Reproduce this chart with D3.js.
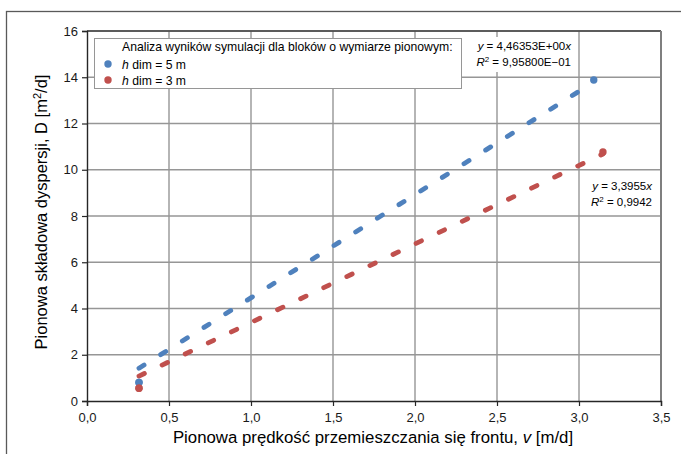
<!DOCTYPE html>
<html>
<head>
<meta charset="utf-8">
<script src="https://cdn.jsdelivr.net/npm/d3@7"></script>
<style>
  html, body { margin: 0; padding: 0; background: #fff; overflow: hidden; }
  text { font-family: "Liberation Sans", Arial, sans-serif; }
</style>
</head>
<body>
<script>
// ---- data ----
const seriesNames = ["h dim = 5 m", "h dim = 3 m"];
const seriesColors = ["#4F81BD", "#C0504D"];
const blueX = [0.317, 0.317, 3.09];
const blueY = [0.80, 0.80, 13.88];
const redX = [0.317, 0.317, 3.146];
const redY = [0.55, 0.55, 10.77];
const trendSlopes = [4.46353, 3.3955];
const eqLine1 = ["y = 4,46353E+00x", "y = 3,3955x"];
const eqLine2 = ["9,95800E\u221201", "0,9942"];
const xTicks = [0, 0.5, 1.0, 1.5, 2.0, 2.5, 3.0, 3.5];
const yTicks = [0, 2, 4, 6, 8, 10, 12, 14, 16];
const legendTitle = "Analiza wyników symulacji dla bloków o wymiarze pionowym:";

const W = 681, H = 454;
const svg = d3.select("body").append("svg").attr("width", W).attr("height", H);

// outer frame
svg.append("rect").attr("x", 6.5).attr("y", 11.5).attr("width", 700).attr("height", 500)
  .attr("fill", "none").attr("stroke", "#595959").attr("stroke-width", 1.3);

const pL = 87, pR = 661, pT = 31, pB = 401;
const x = d3.scaleLinear().domain([0, 3.5]).range([pL, pR]);
const y = d3.scaleLinear().domain([0, 16]).range([pB, pT]);

// gridlines
const g = svg.append("g");
g.selectAll(".vg").data(xTicks.slice(1)).enter().append("line")
  .attr("x1", d => x(d)).attr("x2", d => x(d)).attr("y1", pT).attr("y2", pB)
  .attr("stroke", "#969696").attr("stroke-width", 1.4);
g.selectAll(".hg").data(yTicks.slice(1)).enter().append("line")
  .attr("x1", pL).attr("x2", pR).attr("y1", d => y(d)).attr("y2", d => y(d))
  .attr("stroke", "#969696").attr("stroke-width", 1.4);
svg.append("line").attr("x1", pL).attr("x2", pR).attr("y1", pT).attr("y2", pT)
  .attr("stroke", "#404040").attr("stroke-width", 1.4);
svg.append("line").attr("x1", pR).attr("x2", pR).attr("y1", pT).attr("y2", pB)
  .attr("stroke", "#7f7f7f").attr("stroke-width", 2);

// axes
const fmt = d => d.toFixed(1).replace(".", ",");
const xAxis = svg.append("g").attr("transform", `translate(0,${pB})`)
  .call(d3.axisBottom(x).tickValues(xTicks).tickFormat(fmt).tickSizeOuter(0).tickSize(5).tickPadding(7));
const yAxis = svg.append("g").attr("transform", `translate(${pL},0)`)
  .call(d3.axisLeft(y).tickValues(yTicks).tickFormat(d3.format("d")).tickSizeOuter(0).tickSize(5).tickPadding(4));
[xAxis, yAxis].forEach(a => {
  a.select(".domain").attr("stroke", "#262626").attr("stroke-width", 1.4);
  a.selectAll(".tick line").attr("stroke", "#262626").attr("stroke-width", 1.2);
  a.selectAll(".tick text").attr("fill", "#1a1a1a").style("font-size", "13px")
    .style("font-family", "'Liberation Sans', Arial, sans-serif");
});

// trendlines
const series = [
  { xs: blueX, ys: blueY },
  { xs: redX, ys: redY }
];
series.forEach((s, i) => {
  const x0 = d3.min(s.xs), x1 = d3.max(s.xs);
  svg.append("line")
    .attr("x1", x(x0)).attr("y1", y(trendSlopes[i] * x0))
    .attr("x2", x(x1)).attr("y2", y(trendSlopes[i] * x1))
    .attr("stroke", seriesColors[i]).attr("stroke-width", 4.8)
    .attr("stroke-linecap", "round").attr("stroke-dasharray", "6,19.6");
});
// points
series.forEach((s, i) => {
  svg.selectAll(null).data(s.xs.map((v, k) => [v, s.ys[k]])).enter().append("circle")
    .attr("cx", d => x(d[0])).attr("cy", d => y(d[1])).attr("r", 3.7)
    .attr("fill", seriesColors[i]);
});

// legend
const lg = svg.append("g");
lg.append("rect").attr("x", 94.5).attr("y", 38.5).attr("width", 367).attr("height", 50)
  .attr("fill", "#fff").attr("stroke", "#969696").attr("stroke-width", 1);
lg.append("text").attr("x", 122).attr("y", 51).style("font-size", "12.2px").text(legendTitle);
seriesNames.forEach((n, i) => {
  const yy = 64 + i * 16;
  lg.append("circle").attr("cx", 108).attr("cy", yy).attr("r", 3.7).attr("fill", seriesColors[i]);
  const t = lg.append("text").attr("x", 122).attr("y", yy + 4.5).style("font-size", "12.2px");
  t.append("tspan").style("font-style", "italic").text(n.slice(0, 1));
  t.append("tspan").text(n.slice(1));
});

// equation labels
function eq(i, bx, by, bw, bh, tx, ty) {
  svg.append("rect").attr("x", bx).attr("y", by).attr("width", bw).attr("height", bh).attr("fill", "#fff");
  const parts = eqLine1[i].split("x");
  const t1 = svg.append("text").attr("x", tx).attr("y", ty).style("font-size", "11.5px").attr("text-anchor", "end");
  t1.append("tspan").style("font-style", "italic").text("y");
  t1.append("tspan").text(parts[0].slice(1));
  t1.append("tspan").style("font-style", "italic").text("x");
  const t2 = svg.append("text").attr("x", tx).attr("y", ty + 16).style("font-size", "11.5px").attr("text-anchor", "end");
  t2.append("tspan").style("font-style", "italic").text("R");
  t2.append("tspan").attr("dy", -4).style("font-size", "8px").text("2");
  t2.append("tspan").attr("dy", 4).text(" = " + eqLine2[i]);
}
eq(0, 466, 37, 110, 35, 571, 50);
eq(1, 586, 172, 71, 41, 652, 190);

// axis titles
svg.append("text").attr("x", 373).attr("y", 443).attr("text-anchor", "middle").style("font-size", "16.8px")
  .call(t => {
    t.append("tspan").text("Pionowa prędkość przemieszczania się frontu, ");
    t.append("tspan").style("font-style", "italic").text("v");
    t.append("tspan").text(" [m/d]");
  });
svg.append("text").attr("transform", "translate(47,212) rotate(-90)").attr("text-anchor", "middle").style("font-size", "16.5px")
  .call(t => {
    t.append("tspan").text("Pionowa składowa dyspersji, D [m");
    t.append("tspan").attr("dy", -6).style("font-size", "11px").text("2");
    t.append("tspan").attr("dy", 6).text("/d]");
  });
</script>
</body>
</html>
